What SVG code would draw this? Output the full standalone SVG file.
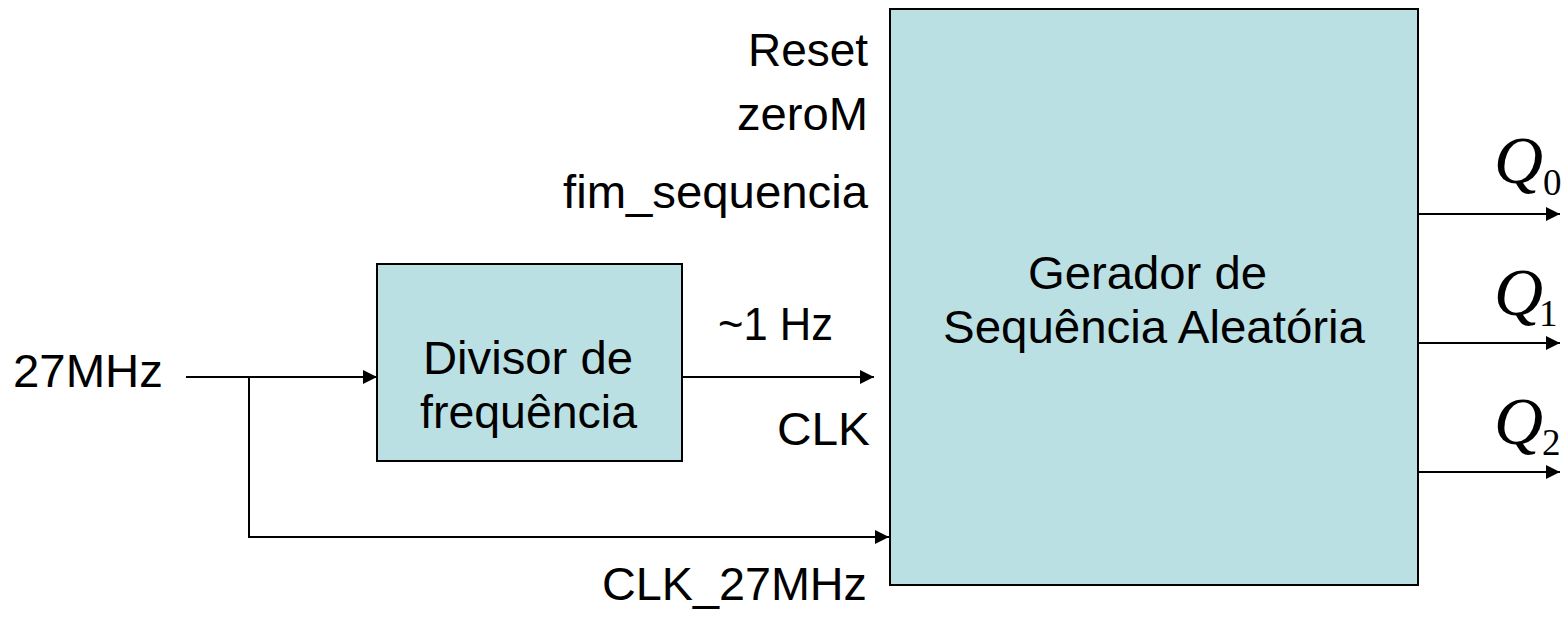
<svg xmlns="http://www.w3.org/2000/svg" width="1564" height="617" viewBox="0 0 1564 617">
<style>
.box{fill:#bbe0e3;stroke:#000;stroke-width:2}
.t{font-family:"Liberation Sans",Arial,sans-serif;font-size:46px;fill:#000}
.q{font-family:"Liberation Serif","Times New Roman",serif;font-style:italic;font-size:68px;fill:#000}
.s{font-family:"Liberation Serif","Times New Roman",serif;font-size:37px;fill:#000}
.w{fill:none;stroke:#000;stroke-width:2}
</style>
<defs>
<marker id="a" viewBox="0 0 14 14" refX="14" refY="7" markerWidth="14" markerHeight="14" markerUnits="userSpaceOnUse" orient="auto"><path d="M0,0 L14,7 L0,14 Z" fill="#000"/></marker>
</defs>
<g id="divisor">
<rect class="box" x="377" y="264" width="305" height="197"/>
<text class="t" x="423" y="374" textLength="210" lengthAdjust="spacingAndGlyphs">Divisor de</text>
<text class="t" x="420" y="428" textLength="217" lengthAdjust="spacingAndGlyphs">frequência</text>
</g>
<g id="gerador">
<rect class="box" x="890" y="9" width="528" height="576"/>
<text class="t" x="1028" y="289" textLength="239" lengthAdjust="spacingAndGlyphs">Gerador de</text>
<text class="t" x="943" y="343" textLength="422" lengthAdjust="spacingAndGlyphs">Sequência Aleatória</text>
</g>
<g id="connectors">
<path class="w" d="M186,377 H377" marker-end="url(#a)"/>
<path class="w" d="M249,377 V537 H889" marker-end="url(#a)"/>
<path class="w" d="M682,377 H874" marker-end="url(#a)"/>
<path class="w" d="M1418,214 H1560" marker-end="url(#a)"/>
<path class="w" d="M1418,343 H1560" marker-end="url(#a)"/>
<path class="w" d="M1418,472 H1560" marker-end="url(#a)"/>
</g>
<g id="labels">
<text class="t" x="13" y="387" textLength="150" lengthAdjust="spacingAndGlyphs">27MHz</text>
<text class="t" x="718" y="340" textLength="115" lengthAdjust="spacingAndGlyphs">~1 Hz</text>
<text class="t" x="777" y="445" textLength="93" lengthAdjust="spacingAndGlyphs">CLK</text>
<text class="t" x="602" y="600" textLength="265" lengthAdjust="spacingAndGlyphs">CLK_27MHz</text>
<text class="t" x="748" y="66" textLength="120" lengthAdjust="spacingAndGlyphs">Reset</text>
<text class="t" x="737" y="130" textLength="131" lengthAdjust="spacingAndGlyphs">zeroM</text>
<text class="t" x="563" y="208" textLength="305" lengthAdjust="spacingAndGlyphs">fim_sequencia</text>
<text class="q" x="1494" y="183">Q</text><text class="s" x="1543" y="195">0</text>
<text class="q" x="1494" y="315">Q</text><text class="s" x="1539" y="326">1</text>
<text class="q" x="1494" y="444">Q</text><text class="s" x="1542" y="455">2</text>
</g>
</svg>
